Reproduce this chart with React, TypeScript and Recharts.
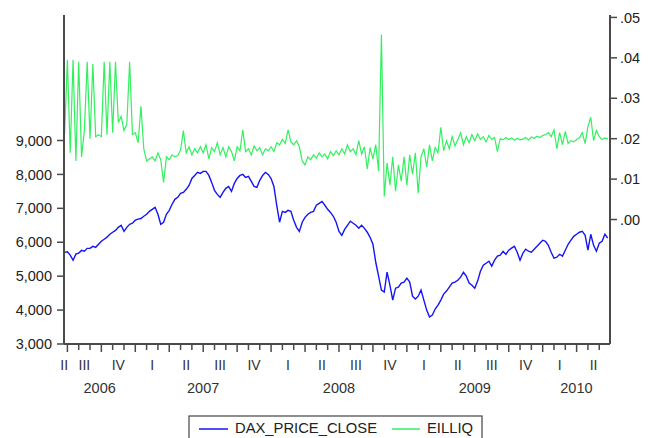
import React from 'react';
import { LineChart, Line, XAxis, YAxis } from 'recharts';

// observations every quarter month, x = months since Jan 2006
const FIRST_OBS = 5.75;
const OBS_STEP = 0.25;

const SERIES_NAMES = ['DAX_PRICE_CLOSE', 'EILLIQ'];

// DAX close, left scale
const DAX_2006 = [
  5700,
  5720, 5620, 5470, 5650, 5680, 5760, 5735, 5820, 5820, 5880, 5850, 5940,
  6030, 6090, 6150, 6235, 6295, 6350, 6440, 6500, 6320, 6440, 6530, 6560,
];
const DAX_2007 = [
  6650, 6680, 6700, 6765, 6825, 6910, 6970, 7030, 6825, 6530, 6590, 6825,
  6940, 7120, 7265, 7325, 7440, 7470, 7560, 7675, 7880, 7970, 8060, 8030,
  8090, 8090, 7970, 7765, 7530, 7410, 7325, 7470, 7590, 7645, 7500, 7735,
  7880, 7970, 8000, 7910, 7940, 7795, 7645, 7620, 7825, 7970, 8060, 8000,
];
const DAX_2008 = [
  7880, 7645, 7090, 6590, 6910, 6880, 6940, 6910, 6650, 6440, 6320, 6590,
  6735, 6825, 6880, 6910, 7090, 7145, 7205, 7090, 6970, 6880, 6765, 6590,
  6320, 6205, 6380, 6500, 6620, 6560, 6500, 6410, 6500, 6410, 6295, 6145,
  5940, 5410, 5000, 4590, 4530, 5120, 4735, 4295, 4645, 4675, 4795, 4825,
];
const DAX_2009 = [
  4940, 4825, 4410, 4325, 4410, 4590, 4295, 4000, 3795, 3855, 4030, 4145,
  4295, 4470, 4560, 4675, 4795, 4825, 4880, 4970, 5115, 5000, 4795, 4735,
  4645, 4855, 5145, 5325, 5380, 5440, 5295, 5470, 5590, 5620, 5735, 5645,
  5765, 5825, 5880, 5705, 5470, 5675, 5795, 5735, 5705, 5795, 5880, 5970,
];
const DAX_2010 = [
  6060, 6030, 5910, 5705, 5530, 5560, 5645, 5590, 5765, 5940, 6060, 6175,
  6235, 6295, 6325, 6205, 5765, 6235, 5910, 5735, 5970, 6030, 6235, 6120,
];

// EILLIQ, right scale
const ILLIQ_2006 = [
  0.021,
  0.0395, 0.0165, 0.0395, 0.0145, 0.039, 0.0155, 0.022, 0.039, 0.02, 0.0385, 0.0205, 0.021,
  0.0205, 0.039, 0.021, 0.039, 0.0215, 0.039, 0.024, 0.0255, 0.022, 0.0235, 0.039, 0.021,
];
const ILLIQ_2007 = [
  0.0215, 0.019, 0.028, 0.0175, 0.0145, 0.015, 0.0155, 0.0145, 0.0165, 0.0148, 0.0092, 0.0155,
  0.0148, 0.016, 0.0155, 0.0158, 0.0172, 0.022, 0.0165, 0.018, 0.016, 0.0175, 0.0165, 0.018,
  0.0165, 0.0185, 0.015, 0.0178, 0.0168, 0.019, 0.016, 0.0178, 0.0155, 0.018, 0.0168, 0.0145,
  0.018, 0.017, 0.0222, 0.0168, 0.0175, 0.016, 0.0182, 0.017, 0.0178, 0.016, 0.0175, 0.017,
];
const ILLIQ_2008 = [
  0.018, 0.0168, 0.019, 0.0185, 0.0198, 0.0188, 0.0222, 0.0192, 0.0185, 0.0195, 0.018, 0.0145,
  0.0135, 0.0155, 0.0148, 0.016, 0.0152, 0.0165, 0.0155, 0.0162, 0.015, 0.0168, 0.0158, 0.017,
  0.016, 0.0175, 0.0162, 0.0185, 0.0168, 0.0175, 0.016, 0.0195, 0.0162, 0.018, 0.0125, 0.0178,
  0.015, 0.0185, 0.012, 0.0457, 0.0057, 0.014, 0.0085, 0.0155, 0.007, 0.0135, 0.0095, 0.0155,
];
const ILLIQ_2009 = [
  0.0085, 0.016, 0.0112, 0.0165, 0.0065, 0.0155, 0.0175, 0.013, 0.0185, 0.0145, 0.0178, 0.0165,
  0.0228, 0.017, 0.0195, 0.0175, 0.0205, 0.0182, 0.0198, 0.0215, 0.0185, 0.0205, 0.019, 0.021,
  0.0195, 0.0212, 0.0198, 0.0205, 0.0192, 0.0208, 0.0198, 0.0203, 0.0168, 0.02, 0.0197, 0.0203,
  0.0198, 0.0202, 0.0196, 0.0201, 0.0197, 0.0199, 0.0203, 0.0197, 0.0204, 0.0201, 0.0206, 0.0203,
];
const ILLIQ_2010 = [
  0.0208, 0.021, 0.0215, 0.0205, 0.0222, 0.0175, 0.0215, 0.0185, 0.0218, 0.0188, 0.0195, 0.0192,
  0.0198, 0.0202, 0.0215, 0.0188, 0.023, 0.0253, 0.0195, 0.022, 0.0205, 0.0198, 0.0202, 0.0199,
];

const LEFT_TICKS = [3000, 4000, 5000, 6000, 7000, 8000, 9000];
const RIGHT_TICKS = [0, 0.01, 0.02, 0.03, 0.04, 0.05];
const MONTH_TICKS = [
  6, 7, 8, 9, 10, 11, 12, 13, 14, 15, 16, 17, 18, 19, 20, 21, 22, 23, 24, 25, 26, 27, 28, 29,
  30, 31, 32, 33, 34, 35, 36, 37, 38, 39, 40, 41, 42, 43, 44, 45, 46, 47, 48, 49, 50, 51, 52, 53,
];
const QUARTER_TICKS = [5.72, 7.5, 10.5, 13.5, 16.5, 19.5, 22.5, 25.5, 28.5, 31.5, 34.5, 37.5, 40.5, 43.5, 46.5, 49.5, 52.5];
const QUARTER_LABELS = ['II', 'III', 'IV', 'I', 'II', 'III', 'IV', 'I', 'II', 'III', 'IV', 'I', 'II', 'III', 'IV', 'I', 'II'];
const YEAR_TICKS = [8.85, 18, 30, 42, 50.98];
const YEAR_LABELS = ['2006', '2007', '2008', '2009', '2010'];

const DAX = [...DAX_2006, ...DAX_2007, ...DAX_2008, ...DAX_2009, ...DAX_2010];
const ILLIQ = [...ILLIQ_2006, ...ILLIQ_2007, ...ILLIQ_2008, ...ILLIQ_2009, ...ILLIQ_2010];

const data = DAX.map((v, i) => ({ m: FIRST_OBS + i * OBS_STEP, dax: v, illiq: ILLIQ[i] }));

const FONT = '"Liberation Sans", Arial, sans-serif';
const BLUE = '#1414f5';
const GREEN = '#33f060';
const AXIS = '#4a4a4a';
const X_DOMAIN = [5.7, 53.95];

const MonthTick = (props: any) => {
  const { x, y, payload } = props;
  const len = payload.value % 3 === 0 ? 8 : 6;
  return <line x1={x} x2={x} y1={y} y2={y + len} stroke={AXIS} strokeWidth={1.5} />;
};

const QuarterTick = (props: any) => {
  const { x, y, index } = props;
  return (
    <text x={x} y={y + 16} textAnchor="middle" fill="#333" fontSize={14} fontFamily={FONT}>
      {QUARTER_LABELS[index]}
    </text>
  );
};

const YearTick = (props: any) => {
  const { x, y, index } = props;
  return (
    <text x={x} y={y + 17} textAnchor="middle" fill="#333" fontSize={14.5} fontFamily={FONT}>
      {YEAR_LABELS[index]}
    </text>
  );
};

const App: React.FC = () => {
  return (
    <div style={{ position: 'absolute', left: 0, top: 0, width: 651, height: 438, background: '#fff', overflow: 'hidden' }}>
      <LineChart width={651} height={438} data={data} margin={{ top: 15, right: 0, left: 0, bottom: 38 }}>
        <XAxis
          xAxisId="top"
          orientation="top"
          dataKey="m"
          type="number"
          domain={X_DOMAIN}
          allowDataOverflow
          height={0}
          tick={false}
          tickLine={false}
          axisLine={{ stroke: '#666', strokeWidth: 1.5 }}
        />
        <XAxis
          xAxisId="month"
          dataKey="m"
          type="number"
          domain={X_DOMAIN}
          allowDataOverflow
          ticks={MONTH_TICKS}
          interval={0}
          height={10}
          tickSize={0}
          tickMargin={0}
          tickLine={false}
          tick={<MonthTick />}
          axisLine={{ stroke: AXIS, strokeWidth: 2 }}
        />
        <XAxis
          xAxisId="quarter"
          dataKey="m"
          type="number"
          domain={X_DOMAIN}
          allowDataOverflow
          ticks={QUARTER_TICKS}
          interval={0}
          height={22}
          tickSize={0}
          tickMargin={0}
          tickLine={false}
          axisLine={false}
          tick={<QuarterTick />}
        />
        <XAxis
          xAxisId="year"
          dataKey="m"
          type="number"
          domain={X_DOMAIN}
          allowDataOverflow
          ticks={YEAR_TICKS}
          interval={0}
          height={24}
          tickSize={0}
          tickMargin={0}
          tickLine={false}
          axisLine={false}
          tick={<YearTick />}
        />
        <YAxis
          yAxisId="left"
          domain={[3000, 12700]}
          allowDataOverflow
          ticks={LEFT_TICKS}
          interval={0}
          width={64}
          tickSize={7}
          tickMargin={5}
          tickFormatter={(v: number) => v.toLocaleString('en-US')}
          tick={{ fill: '#222', fontSize: 14.5, fontFamily: FONT }}
          tickLine={{ stroke: AXIS, strokeWidth: 1.5 }}
          axisLine={{ stroke: AXIS, strokeWidth: 2 }}
        />
        <YAxis
          yAxisId="right"
          orientation="right"
          domain={[-0.0308, 0.0506]}
          allowDataOverflow
          ticks={RIGHT_TICKS}
          interval={0}
          width={41}
          tickSize={7}
          tickMargin={3}
          tickFormatter={(v: number) => v.toFixed(2).replace(/^0/, '')}
          tick={{ fill: '#222', fontSize: 14.5, fontFamily: FONT }}
          tickLine={{ stroke: AXIS, strokeWidth: 1.5 }}
          axisLine={{ stroke: AXIS, strokeWidth: 2 }}
        />
        <Line
          xAxisId="month"
          yAxisId="left"
          type="linear"
          dataKey="dax"
          name={SERIES_NAMES[0]}
          stroke={BLUE}
          strokeWidth={1.4}
          dot={false}
          isAnimationActive={false}
        />
        <Line
          xAxisId="month"
          yAxisId="right"
          type="linear"
          dataKey="illiq"
          name={SERIES_NAMES[1]}
          stroke={GREEN}
          strokeWidth={1.2}
          dot={false}
          isAnimationActive={false}
        />
      </LineChart>
      {/* boxed legend, cut by the bottom edge like the original */}
      <svg width={296} height={23} style={{ position: 'absolute', left: 188, top: 415 }}>
        <rect x={1} y={1} width={293} height={30} fill="#fff" stroke="#444" strokeWidth={1.2} />
        <line x1={11} x2={40} y1={14} y2={14} stroke={BLUE} strokeWidth={1.5} />
        <text x={47} y={18} fontSize={15.5} fontFamily={FONT} fill="#222" textLength={142} lengthAdjust="spacingAndGlyphs">
          {SERIES_NAMES[0]}
        </text>
        <line x1={204} x2={232} y1={14} y2={14} stroke={GREEN} strokeWidth={1.5} />
        <text x={239} y={18} fontSize={15.5} fontFamily={FONT} fill="#222" textLength={46} lengthAdjust="spacingAndGlyphs">
          {SERIES_NAMES[1]}
        </text>
      </svg>
    </div>
  );
};

export default App;
